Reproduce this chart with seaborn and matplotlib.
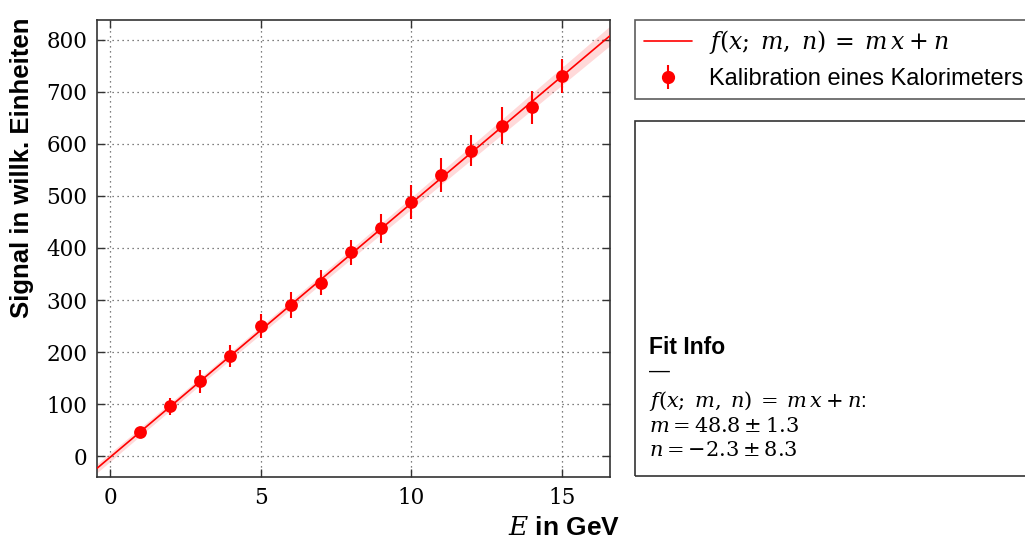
import numpy as np
import pandas as pd
import matplotlib
matplotlib.use("Agg")
import matplotlib.pyplot as plt
from matplotlib.lines import Line2D
from matplotlib.patches import Rectangle
import seaborn as sns

# Calorimeter calibration measurements
energy_gev = [1, 2, 3, 4, 5, 6, 7, 8, 9, 10, 11, 12, 13, 14, 15]
signal = [46, 96, 144, 193, 251, 291, 333, 392, 438, 488, 540, 587, 635, 670, 730]
signal_err = [7, 16, 22, 21, 23, 25, 24, 24, 28, 33, 33, 30, 36, 32, 33]

# Fit result f(x; m, n) = m x + n
fit_m, fit_m_err = 48.8, 1.3
fit_n, fit_n_err = -2.3, 8.3
fit_corr = -0.5

x_ticks = [0, 5, 10, 15]
y_ticks = [0, 100, 200, 300, 400, 500, 600, 700, 800]

sns.set_style("ticks")
plt.rcParams["mathtext.fontset"] = "dejavuserif"
plt.rcParams["font.family"] = ["Liberation Sans", "DejaVu Sans"]
for key in ("text.color", "axes.labelcolor", "xtick.color", "ytick.color"):
    plt.rcParams[key] = "black"

W, H = 1025, 543
fig = plt.figure(figsize=(W / 100, H / 100), dpi=100)
fig.patch.set_facecolor("white")


def fbox(x0, y0, x1, y1):
    return [x0 / W, 1 - y1 / H, (x1 - x0) / W, (y1 - y0) / H]


ax = fig.add_axes(fbox(97, 20, 610, 477))

df = pd.DataFrame({"E": energy_gev, "S": signal, "dS": signal_err})

# fit line with 1-sigma band
xlim = (-0.43, 16.6)
xs = np.linspace(xlim[0], xlim[1], 200)
ys = fit_m * xs + fit_n
sig = np.sqrt((fit_m_err * xs) ** 2 + fit_n_err ** 2
              + 2 * fit_corr * fit_m_err * fit_n_err * xs)
ax.fill_between(xs, ys - sig, ys + sig, color="red", alpha=0.15, lw=0, zorder=2)
sns.lineplot(x=xs, y=ys, ax=ax, color="red", lw=1.2, zorder=3)

ax.errorbar(df["E"], df["S"], yerr=df["dS"], fmt="none", ecolor="red",
            elinewidth=1.5, zorder=4)
sns.scatterplot(data=df, x="E", y="S", ax=ax, color="red", s=85,
                edgecolor="red", linewidth=0, zorder=5)

ax.set_xlim(*xlim)
ax.set_ylim(-40, 838)
ax.set_xticks(x_ticks)
ax.set_yticks(y_ticks)
ax.grid(True, ls=(0, (1, 3)), color="#555555", lw=0.9)
ax.tick_params(direction="in", length=6, width=1, top=True, right=True,
               color="#333333", pad=7)
for lab in ax.get_xticklabels() + ax.get_yticklabels():
    lab.set_fontfamily("DejaVu Serif")
    lab.set_fontsize(15.5)
for sp in ax.spines.values():
    sp.set_color("#333333")
    sp.set_linewidth(1.2)

ax.set_xlabel(r"$E$ in GeV", fontsize=19, fontweight="bold", loc="right")
ax.xaxis.set_label_coords(1.02, -0.085)
ax.set_ylabel("Signal in willk. Einheiten", fontsize=18.5, fontweight="bold",
              loc="top")
ax.yaxis.set_label_coords(-0.122, 1.006)

# legend panel
fit_label = r"$f(x;\;m,\;n)\:=\:m\,x\:+\:n$"
eb = ax.errorbar([np.nan], [np.nan], yerr=[1], fmt="o", color="red", ms=8.5,
                 elinewidth=1.5)
handles = [Line2D([], [], color="red", lw=1.2), eb]
leg_labels = [fit_label, "Kalibration eines Kalorimeters"]
leg = fig.legend(handles, leg_labels, loc="upper left",
                 bbox_to_anchor=(635 / W, 1 - 20 / H), borderaxespad=0,
                 fancybox=False, frameon=True, fontsize=17, handlelength=2.05,
                 handletextpad=0.72, borderpad=0.36, labelspacing=0.5)
leg.get_frame().set_edgecolor("#333333")
leg.get_frame().set_linewidth(1.2)

# fit info panel
fig.add_artist(Rectangle((635 / W, 1 - 476 / H), 0.5, (476 - 121) / H,
                         transform=fig.transFigure, fill=False,
                         edgecolor="#333333", lw=1.2))
fig.text(649 / W, 1 - 347 / H, "Fit Info", fontsize=16.5, fontweight="bold",
         va="center", ha="left")
fig.text(649 / W, 1 - 371 / H, "—", fontsize=15, va="center", ha="left")
lines = [
    r"$f(x;\;m,\;n)\:=\:m\,x\:+\:n$:",
    rf"$m = {fit_m:.1f} \pm {fit_m_err:.1f}$",
    rf"$n = {fit_n:.1f} \pm {fit_n_err:.1f}$",
]
for i, t in enumerate(lines):
    fig.text(649 / W, 1 - (401 + 25 * i) / H, t, fontsize=15, va="center",
             ha="left")

fig.savefig("out.png", dpi=100)
